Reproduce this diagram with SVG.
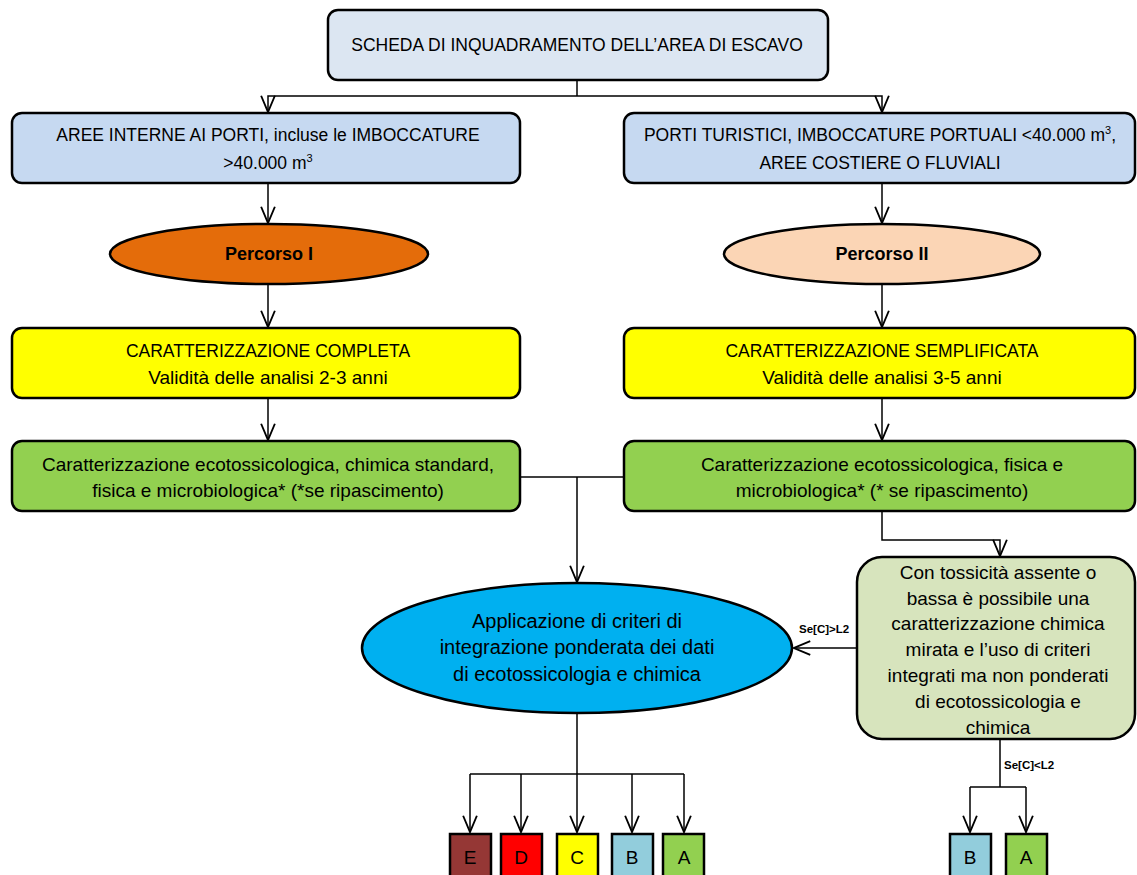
<svg xmlns="http://www.w3.org/2000/svg" width="1137" height="875" viewBox="0 0 1137 875">
<defs>
<marker id="arr" markerUnits="userSpaceOnUse" markerWidth="20" markerHeight="20" viewBox="-14 -8 16 16" refX="0" refY="0" orient="auto">
<path d="M-13,-5.5 L0,0 L-13,5.5" fill="none" stroke="#000" stroke-width="1.5"/>
</marker>
</defs>
<style>
.bx{stroke:#000;stroke-width:2.5}
.t{font-family:"Liberation Sans",Arial,sans-serif;font-size:17.5px;fill:#000;text-anchor:middle}
.m{font-size:19px}
.e{font-size:20px}
.b{font-weight:bold;font-size:18px}
.s{font-family:"Liberation Sans",Arial,sans-serif;font-size:11.5px;font-weight:bold;fill:#000}
.l{font-family:"Liberation Sans",Arial,sans-serif;font-size:19px;fill:#000;text-anchor:middle}
.c{fill:none;stroke:#000;stroke-width:1.5}
.ca{fill:none;stroke:#000;stroke-width:1.5;marker-end:url(#arr)}
</style>
<rect width="1137" height="875" fill="#fff"/>
<g id="connectors">
<polyline class="c" points="577,80 577,96"/>
<polyline class="ca" points="577,96 268,96 268,112"/>
<polyline class="ca" points="577,96 882,96 882,112"/>
<polyline class="ca" points="268,183 268,223"/>
<polyline class="ca" points="882,183 882,223"/>
<polyline class="ca" points="268,285 268,327"/>
<polyline class="ca" points="882,285 882,327"/>
<polyline class="ca" points="268,398 268,440"/>
<polyline class="ca" points="882,398 882,440"/>
<polyline class="c" points="520,477 624,477"/>
<polyline class="ca" points="577,477 577,582"/>
<polyline class="ca" points="882,511 882,540 1000,540 1000,556"/>
<polyline class="ca" points="857,648 794,648"/>
<text class="s" x="799" y="633">Se[C]&gt;L2</text>
<polyline class="c" points="577,713 577,774"/>
<polyline class="c" points="470,774 684,774"/>
<polyline class="ca" points="470,774 470,832"/>
<polyline class="ca" points="521,774 521,832"/>
<polyline class="ca" points="577,774 577,832"/>
<polyline class="ca" points="632,774 632,832"/>
<polyline class="ca" points="684,774 684,832"/>
<polyline class="c" points="1000,739 1000,787"/>
<polyline class="c" points="970,787 1026,787"/>
<polyline class="ca" points="970,787 970,832"/>
<polyline class="ca" points="1026,787 1026,832"/>
<text class="s" x="1004" y="769">Se[C]&lt;L2</text>
</g>
<g id="n-scheda">
<rect class="bx" x="328" y="10" width="500" height="70" rx="10" fill="#dce6f2"/>
<text class="t" x="577" y="51">SCHEDA DI INQUADRAMENTO DELL’AREA DI ESCAVO</text>
</g>
<g id="n-aree-interne">
<rect class="bx" x="12" y="113" width="508" height="70" rx="10" fill="#c6d9f1"/>
<text class="t" x="268" y="141">AREE INTERNE AI PORTI, incluse le IMBOCCATURE</text>
<text class="t" x="268" y="169">&gt;40.000 m<tspan font-size="11" dy="-7">3</tspan></text>
</g>
<g id="n-porti-turistici">
<rect class="bx" x="624" y="113" width="511" height="70" rx="10" fill="#c6d9f1"/>
<text class="t" x="880" y="141">PORTI TURISTICI, IMBOCCATURE PORTUALI &lt;40.000 m<tspan font-size="11" dy="-7">3</tspan><tspan dy="7">,</tspan></text>
<text class="t" x="880" y="169">AREE COSTIERE O FLUVIALI</text>
</g>
<g id="n-percorso1">
<ellipse class="bx" cx="269" cy="254" rx="159" ry="30" fill="#e46c0a"/>
<text class="t b" x="269" y="260">Percorso I</text>
</g>
<g id="n-percorso2">
<ellipse class="bx" cx="882" cy="254" rx="158" ry="30" fill="#fbd5b5"/>
<text class="t b" x="882" y="260">Percorso II</text>
</g>
<g id="n-completa">
<rect class="bx" x="12" y="328" width="508" height="70" rx="10" fill="#ffff00"/>
<text class="t" x="268" y="357">CARATTERIZZAZIONE COMPLETA</text>
<text class="t m" x="268" y="384">Validità delle analisi 2-3 anni</text>
</g>
<g id="n-semplificata">
<rect class="bx" x="624" y="328" width="511" height="70" rx="10" fill="#ffff00"/>
<text class="t" x="882" y="357">CARATTERIZZAZIONE SEMPLIFICATA</text>
<text class="t m" x="882" y="384">Validità delle analisi 3-5 anni</text>
</g>
<g id="n-eco-completa">
<rect class="bx" x="12" y="441" width="508" height="70" rx="10" fill="#92d050"/>
<text class="t m" x="268" y="471">Caratterizzazione ecotossicologica, chimica standard,</text>
<text class="t m" x="268" y="497">fisica e microbiologica* (*se ripascimento)</text>
</g>
<g id="n-eco-semplificata">
<rect class="bx" x="624" y="441" width="511" height="70" rx="10" fill="#92d050"/>
<text class="t m" x="882" y="471">Caratterizzazione ecotossicologica, fisica e</text>
<text class="t m" x="882" y="497">microbiologica* (* se ripascimento)</text>
</g>
<g id="n-applicazione">
<ellipse class="bx" cx="577" cy="648" rx="215" ry="65" fill="#00b0f0"/>
<text class="t e" x="577" y="628">Applicazione di criteri di</text>
<text class="t e" x="577" y="654">integrazione ponderata dei dati</text>
<text class="t e" x="577" y="681">di ecotossicologia e chimica</text>
</g>
<g id="n-tossicita">
<rect class="bx" x="857" y="557" width="278" height="182" rx="25" fill="#d7e4bd"/>
<text class="t m" x="998" y="579">Con tossicità assente o</text>
<text class="t m" x="998" y="605">bassa è possibile una</text>
<text class="t m" x="998" y="630">caratterizzazione chimica</text>
<text class="t m" x="998" y="656">mirata e l’uso di criteri</text>
<text class="t m" x="998" y="682">integrati ma non ponderati</text>
<text class="t m" x="998" y="708">di ecotossicologia e</text>
<text class="t m" x="998" y="734">chimica</text>
</g>
<g id="n-E"><rect class="bx" x="450" y="834" width="41" height="44" fill="#953735"/><text class="l" x="470" y="864">E</text></g>
<g id="n-D"><rect class="bx" x="501" y="834" width="41" height="44" fill="#ff0000"/><text class="l" x="521" y="864">D</text></g>
<g id="n-C"><rect class="bx" x="557" y="834" width="41" height="44" fill="#ffff00"/><text class="l" x="577" y="864">C</text></g>
<g id="n-B"><rect class="bx" x="612" y="834" width="41" height="44" fill="#92cddc"/><text class="l" x="632" y="864">B</text></g>
<g id="n-A"><rect class="bx" x="663" y="834" width="41" height="44" fill="#92d050"/><text class="l" x="684" y="864">A</text></g>
<g id="n-B2"><rect class="bx" x="950" y="834" width="41" height="44" fill="#92cddc"/><text class="l" x="970" y="864">B</text></g>
<g id="n-A2"><rect class="bx" x="1006" y="834" width="41" height="44" fill="#92d050"/><text class="l" x="1026" y="864">A</text></g>
</svg>
